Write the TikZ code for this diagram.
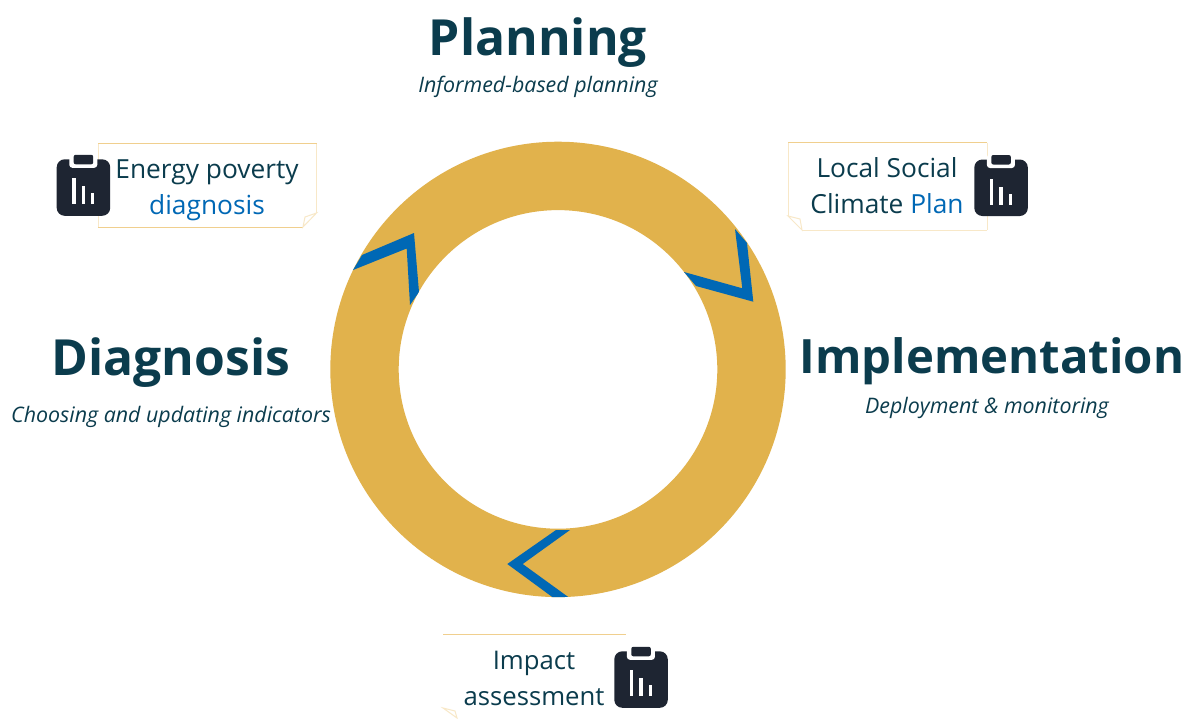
\documentclass[tikz,border=0pt]{standalone}
\usepackage{fontspec}
\setmainfont{Open Sans}
\definecolor{ringc}{HTML}{E1B24C}
\definecolor{bluec}{HTML}{0068B5}
\definecolor{tealc}{HTML}{0B3C4D}
\definecolor{iconc}{HTML}{1E2532}
\definecolor{notec}{HTML}{F0CF8E}
\definecolor{notel}{HTML}{F8E8C8}
\tikzset{
  x=1pt,y=-1pt,
  heading/.style={text=tealc,font=\fontsize{49.8}{52}\selectfont\bfseries,inner sep=0pt},
  headingb/.style={text=tealc,font=\fontsize{47.3}{52}\selectfont\bfseries,inner sep=0pt},
  subhead/.style={text=tealc,font=\fontsize{21.4}{25}\selectfont\itshape,inner sep=0pt},
  notetext/.style={text=tealc,font=\fontsize{26.3}{36}\selectfont,align=center,inner sep=0pt},
  impacttext/.style={text=tealc,font=\fontsize{25.7}{36}\selectfont,align=center,inner sep=0pt},
  chevron/.style={fill=bluec,draw=none},
  strong/.style={draw=notec,line width=1pt},
  faint/.style={draw=notel,line width=1pt},
  clipicon/.pic={
    \fill[iconc,rounded corners=8pt] (0,4) rectangle (53.5,60.5);
    \fill[white,rounded corners=3pt] (12.6,-1) rectangle (40.6,12.5);
    \fill[iconc,rounded corners=2pt] (17,-0.5) rectangle (36.5,9);
    \fill[white] (15.5,23) rectangle (18.8,49);
    \fill[white] (25,31) rectangle (28.3,49);
    \fill[white] (34.2,38) rectangle (37.5,49);
  }
}
\begin{document}
\begin{tikzpicture}
\useasboundingbox (0,0) rectangle (1191,718);
\fill[white] (0,0) rectangle (1191,718);
% ring
\fill[ringc,even odd rule] (558,369.4) circle[radius=227.7] (558,369.4) circle[radius=159.3];
\begin{scope}[even odd rule]
\clip (558,369.4) circle[radius=227.7] (558,369.4) circle[radius=159.3];
\fill[chevron] (353,270) -- (362,255) -- (414,233) -- (419,292) -- (410,305) -- (406.7,248.5) -- cycle;
\fill[chevron] (735,229) -- (747,243) -- (753.3,301.7) -- (696,286) -- (684,272) -- (742.3,288.3) -- cycle;
\fill[chevron] (507.3,564) -- (556,530) -- (570,530) -- (522.7,564) -- (571,599) -- (555,599) -- cycle;
\end{scope}
% headings
\node[heading] (planning) at (538,43) {Planning};
\node[subhead] (planningsub) at (538,87) {Informed-based planning};
\node[heading] (diagnosis) at (171,363) {Diagnosis};
\node[subhead] (diagnosissub) at (171,417) {Choosing and updating indicators};
\node[headingb] (implementation) at (992,361) {Implementation};
\node[subhead] (implementationsub) at (987,408) {Deployment \& monitoring};
% notes
\draw[strong] (98,143.5) -- (317,143.5);
\draw[faint] (98,143.5) -- (98,227);
\draw[faint] (316.5,143.5) -- (316.5,213);
\draw[strong] (98,227) -- (303,227);
\draw[faint] (316.5,213) -- (303,227) -- (305,217) -- cycle;
\draw[strong] (788,142.5) -- (987,142.5);
\draw[faint] (788,142.5) -- (788,216);
\draw[faint] (987,142.5) -- (987,230);
\draw[faint] (802,230) -- (987,230);
\draw[faint] (788,216) -- (802,230) -- (800,219) -- cycle;
\draw[strong] (443,634) -- (626,634);
\draw[faint] (443,708) -- (457,718) -- (455,711) -- cycle;
% note texts
\node[notetext] (energy) at (207,190) {Energy poverty\\\textcolor{bluec}{diagnosis}};
\node[notetext] (local) at (887,186) {Local Social\\Climate \textcolor{bluec}{Plan}};
\node[impacttext] (impact) at (534,678) {Impact\\assessment};
% icons
\pic at (56.7,155.3) {clipicon};
\pic at (974.3,155.5) {clipicon};
\pic at (614.3,647.3) {clipicon};
\end{tikzpicture}
\end{document}
